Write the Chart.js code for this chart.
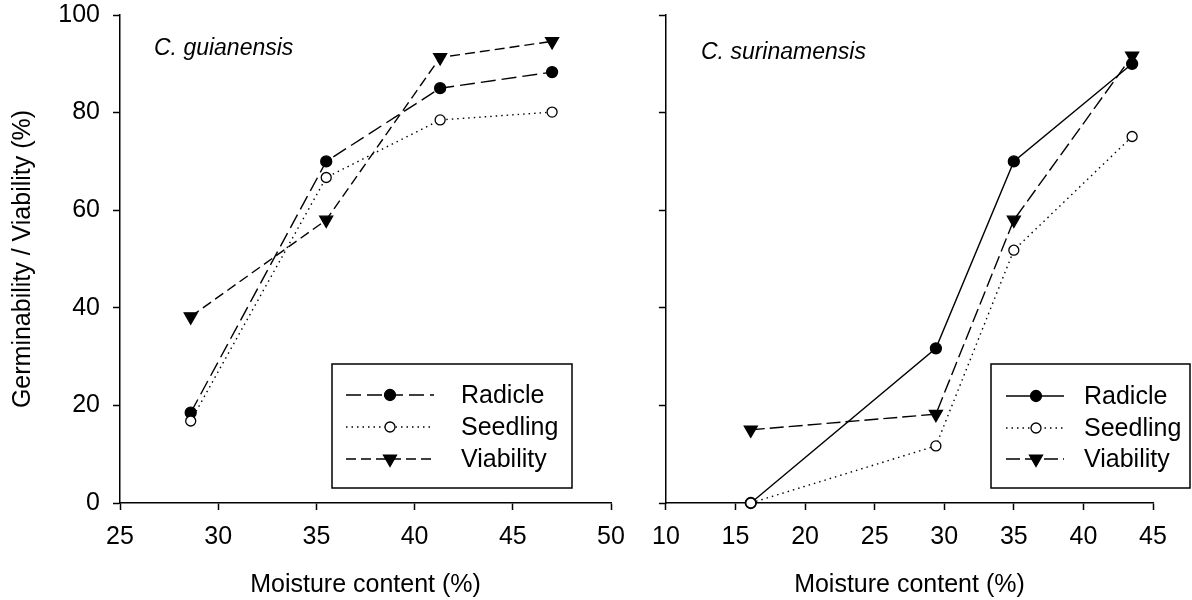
<!DOCTYPE html>
<html lang="en">
<head>
<meta charset="UTF-8">
<title>Germinability and viability vs moisture content</title>
<script src="https://cdn.jsdelivr.net/npm/chart.js@4.4.1/dist/chart.umd.min.js"></script>
<style>
  html, body { margin: 0; padding: 0; background: #fff; }
  #wrap { position: relative; width: 1192px; height: 600px; overflow: hidden; }
  #left { position: absolute; left: 0; top: 0; width: 640px; height: 600px; }
  #right { position: absolute; left: 640px; top: 0; width: 552px; height: 600px; }
</style>
</head>
<body>
<div id="wrap">
  <div id="left"><canvas id="chartLeft"></canvas></div>
  <div id="right"><canvas id="chartRight"></canvas></div>
</div>
<script>
// C. guianensis
const guiMoisture  = [28.6, 35.5, 41.3, 47.0];
const guiRadicle   = [18.5, 70.0, 85.0, 88.3];
const guiSeedling  = [16.8, 66.7, 78.5, 80.1];
const guiViability = [38.2, 58.0, 91.3, 94.6];

// C. surinamensis
const surMoisture  = [16.1, 29.4, 35.0, 43.5];
const surRadicle   = [0, 31.7, 70.0, 90.0];
const surSeedling  = [0, 11.7, 51.8, 75.1];
const surViability = [15.0, 18.2, 58.0, 91.6];

const seriesNames = ['Radicle', 'Seedling', 'Viability'];
const xTicksLeft  = [25, 30, 35, 40, 45, 50];
const xTicksRight = [10, 15, 20, 25, 30, 35, 40, 45];
const yTicks      = [0, 20, 40, 60, 80, 100];

const FONT = "'Liberation Sans', Arial, sans-serif";
Chart.defaults.font.family = FONT;
Chart.defaults.color = '#000';

function points(xs, ys) {
    return xs.map((x, i) => ({ x: x, y: ys[i] }));
}

function series(label, xs, ys, style) {
    return Object.assign({
        label: label,
        data: points(xs, ys),
        borderColor: '#000',
        borderWidth: 1.4,
        pointBorderColor: '#000',
        pointBorderWidth: 1.3,
        clip: false,
        tension: 0
    }, style);
}

// order: lower is drawn on top (open circles sit over the filled ones)
const filledCircle = { pointStyle: 'circle', pointRadius: 5.5, pointBackgroundColor: '#000', order: 1 };
const openCircle   = { pointStyle: 'circle', pointRadius: 5, pointBackgroundColor: '#fff', order: 0 };
const downTriangle = { pointStyle: 'triangle', pointRotation: 180, pointRadius: 7.5, pointBackgroundColor: '#000', order: 2 };

// draws a marker in the legend the same way the dataset does
function drawMarker(ctx, ds, x, y) {
    const r = ds.pointRadius;
    ctx.save();
    ctx.setLineDash([]);
    ctx.lineWidth = ds.pointBorderWidth;
    ctx.strokeStyle = ds.pointBorderColor;
    ctx.fillStyle = ds.pointBackgroundColor;
    ctx.beginPath();
    if (ds.pointStyle === 'triangle') {
        let a = (ds.pointRotation || 0) * Math.PI / 180;
        for (let k = 0; k < 3; k++) {
            const px = x + Math.sin(a) * r, py = y - Math.cos(a) * r;
            if (k === 0) ctx.moveTo(px, py); else ctx.lineTo(px, py);
            a += 2 * Math.PI / 3;
        }
        ctx.closePath();
    } else {
        ctx.arc(x, y, r, 0, 2 * Math.PI);
    }
    ctx.fill();
    ctx.stroke();
    ctx.restore();
}

// species name and the boxed legend
const panelDecor = {
    id: 'panelDecor',
    afterDraw(chart, args, o) {
        const ctx = chart.ctx;
        ctx.save();
        ctx.fillStyle = '#000';
        ctx.font = 'italic 23px ' + FONT;
        ctx.textBaseline = 'alphabetic';
        ctx.fillText(o.species, o.speciesX, o.speciesY);

        ctx.lineWidth = 1.5;
        ctx.strokeStyle = '#000';
        ctx.strokeRect(o.box[0], o.box[1], o.box[2], o.box[3]);

        ctx.font = '25px ' + FONT;
        ctx.textBaseline = 'middle';
        chart.data.datasets.forEach((ds, i) => {
            const y = o.rowY[i];
            ctx.save();
            ctx.lineWidth = ds.borderWidth;
            ctx.setLineDash(ds.borderDash || []);
            ctx.beginPath();
            ctx.moveTo(o.lineX[0], y);
            ctx.lineTo(o.lineX[1], y);
            ctx.stroke();
            ctx.restore();
            drawMarker(ctx, ds, o.markX, y);
            ctx.fillText(ds.label, o.textX, y + 1);
        });
        ctx.restore();
    }
};

function axisBase(ticks) {
    return {
        type: 'linear',
        min: ticks[0],
        max: ticks[ticks.length - 1],
        afterBuildTicks: s => { s.ticks = ticks.map(v => ({ value: v })); },
        border: { display: true, color: '#000', width: 1.5 },
        grid: { drawOnChartArea: false, drawTicks: true, tickLength: 7, tickColor: '#000', tickWidth: 1.5 },
        ticks: { font: { size: 25 }, color: '#000' }
    };
}

function makeOptions(xTicks, showYLabels, yWidth, padRight, decor) {
    const x = axisBase(xTicks);
    x.ticks.padding = 12;
    x.ticks.maxRotation = 0;
    x.title = { display: true, text: 'Moisture content (%)', font: { size: 25 }, color: '#000', padding: { top: 0, bottom: 0 } };
    x.afterFit = s => { s.height = 97; };

    const y = axisBase(yTicks);
    y.ticks.padding = 13;
    y.ticks.display = showYLabels;
    y.title = { display: showYLabels, text: 'Germinability / Viability (%)', font: { size: 25 }, color: '#000', padding: { top: 8, bottom: 0 } };
    y.afterFit = s => { s.width = yWidth; s.paddingTop = 0; s.paddingBottom = 0; };

    return {
        responsive: true,
        maintainAspectRatio: false,
        animation: false,
        layout: { padding: { left: 0, top: 15, right: padRight, bottom: 0 } },
        scales: { x: x, y: y },
        plugins: {
            legend: { display: false },
            tooltip: { enabled: false },
            panelDecor: decor
        }
    };
}

new Chart(document.getElementById('chartLeft'), {
    type: 'line',
    data: {
        datasets: [
            series(seriesNames[0], guiMoisture, guiRadicle, Object.assign({ borderDash: [15, 6] }, filledCircle)),
            series(seriesNames[1], guiMoisture, guiSeedling, Object.assign({ borderDash: [1.5, 4] }, openCircle)),
            series(seriesNames[2], guiMoisture, guiViability, Object.assign({ borderDash: [10, 5] }, downTriangle))
        ]
    },
    options: makeOptions(xTicksLeft, true, 120, 29, {
        species: 'C. guianensis', speciesX: 154, speciesY: 55,
        box: [332, 364, 240, 124],
        rowY: [395, 427, 459],
        lineX: [346, 434], markX: 390, textX: 461
    }),
    plugins: [panelDecor]
});

new Chart(document.getElementById('chartRight'), {
    type: 'line',
    data: {
        datasets: [
            series(seriesNames[0], surMoisture, surRadicle, Object.assign({ borderDash: [] }, filledCircle)),
            series(seriesNames[1], surMoisture, surSeedling, Object.assign({ borderDash: [1.5, 4] }, openCircle)),
            series(seriesNames[2], surMoisture, surViability, Object.assign({ borderDash: [14, 5] }, downTriangle))
        ]
    },
    options: makeOptions(xTicksRight, false, 23, 39, {
        species: 'C. surinamensis', speciesX: 61, speciesY: 59,
        box: [351, 364, 199, 124],
        rowY: [396, 428, 459],
        lineX: [366, 424], markX: 396, textX: 444
    }),
    plugins: [panelDecor]
});
</script>
</body>
</html>
